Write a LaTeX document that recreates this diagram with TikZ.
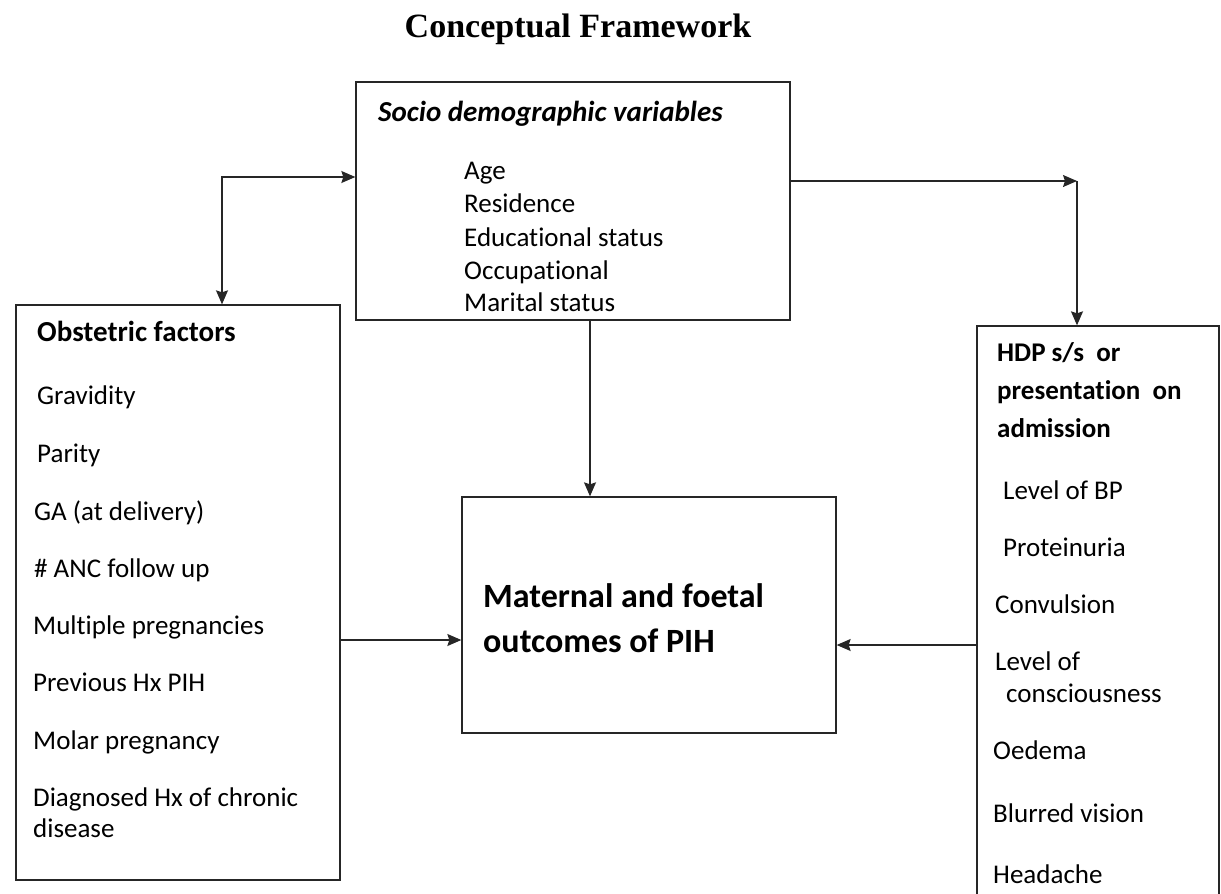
\documentclass[tikz,border=0pt]{standalone}
\usepackage{fontspec}
\setmainfont{Carlito}[Ligatures=NoCommon]
\newfontfamily\headfont{Liberation Serif}
\usetikzlibrary{arrows.meta}
\colorlet{lnx}{black!85}

\begin{document}
\begin{tikzpicture}[x=1pt,y=-1pt,
        box/.style={draw=lnx,line width=1.3pt,inner sep=0pt},
        txt/.style={anchor=base west,inner sep=0pt,font=\fontsize{27}{32}\selectfont},
        hd/.style={txt,font=\fontsize{29}{34}\selectfont\bfseries},
        arr/.style={lnx,line width=1.3pt,-{Stealth[length=14pt,width=12pt,inset=2pt]}},
    ]
        \useasboundingbox (0,0) rectangle (1221,894);
        \node [anchor=base,inner sep=0pt,font=\headfont\fontsize{34}{40}\selectfont\bfseries] (title) at (578,37) {Conceptual Framework};

        % boxes
        \node [box,minimum width=434pt,minimum height=238pt] (socio) at (573,201) {};
        \node [box,minimum width=324pt,minimum height=575pt] (obst) at (178,592.5) {};
        \node [box,minimum width=374pt,minimum height=236pt] (outc) at (649,615) {};
        \node [box,minimum width=242pt,minimum height=580pt] (hdp) at (1098,616) {};

        % socio demographic
        \node [hd,font=\fontsize{29}{34}\selectfont\bfseries\itshape] (s0) at (378,121) {Socio demographic variables};
        \node [txt] (s1) at (464,179) {Age};
        \node [txt] (s2) at (464,212) {Residence};
        \node [txt] (s3) at (464,246) {Educational status};
        \node [txt] (s4) at (464,279) {Occupational};
        \node [txt] (s5) at (464,311) {Marital status};

        % obstetric
        \node [hd] (o0) at (37,341) {Obstetric factors};
        \node [txt] (o1) at (37,404) {Gravidity};
        \node [txt] (o2) at (37,462) {Parity};
        \node [txt] (o3) at (34,520) {GA (at delivery)};
        \node [txt] (o4) at (34,577) {\# ANC follow up};
        \node [txt] (o5) at (33,634) {Multiple pregnancies};
        \node [txt] (o6) at (33,691) {Previous Hx PIH};
        \node [txt] (o7) at (33,749) {Molar pregnancy};
        \node [txt] (o8) at (33,806) {Diagnosed Hx of chronic};
        \node [txt] (o9) at (33,837) {disease};

        % outcome
        \node [hd,font=\fontsize{34}{40}\selectfont\bfseries] (m1) at (483,607) {Maternal and foetal};
        \node [hd,font=\fontsize{34}{40}\selectfont\bfseries] (m2) at (483,652) {outcomes of PIH};

        % HDP
        \node [hd,font=\fontsize{27}{32}\selectfont\bfseries] (h0) at (997,361) {HDP s/s\ \ or};
        \node [hd,font=\fontsize{27}{32}\selectfont\bfseries] (h1) at (997,399) {presentation\ \ on};
        \node [hd,font=\fontsize{27}{32}\selectfont\bfseries] (h2) at (997,437) {admission};
        \node [txt] (h3) at (1003,499) {Level of BP};
        \node [txt] (h4) at (1003,556) {Proteinuria};
        \node [txt] (h5) at (995,613) {Convulsion};
        \node [txt] (h6) at (995,670) {Level of};
        \node [txt] (h7) at (1006,702) {consciousness};
        \node [txt] (h8) at (993,759) {Oedema};
        \node [txt] (h9) at (993,822) {Blurred vision};
        \node [txt] (h10) at (993,883) {Headache};

        % connectors
        \coordinate (ls) at (222,177);
        \coordinate (rs) at (1077,181);
        \coordinate (ms) at (590,0);
        \coordinate (lo) at (0,640);
        \coordinate (ro) at (0,645);
        \draw [arr,{Stealth[length=14pt,width=12pt,inset=2pt]}-{Stealth[length=14pt,width=12pt,inset=2pt]}]
            (socio.west |- ls) -- (ls) -- (obst.north -| ls);
        \draw [arr] (socio.east |- rs) -- (rs);
        \draw [arr] (rs) -- (hdp.north -| rs);
        \draw [arr] (socio.south -| ms) -- (outc.north -| ms);
        \draw [arr] (obst.east |- lo) -- (outc.west |- lo);
        \draw [arr] (hdp.west |- ro) -- (outc.east |- ro);
    \end{tikzpicture}
\end{document}
